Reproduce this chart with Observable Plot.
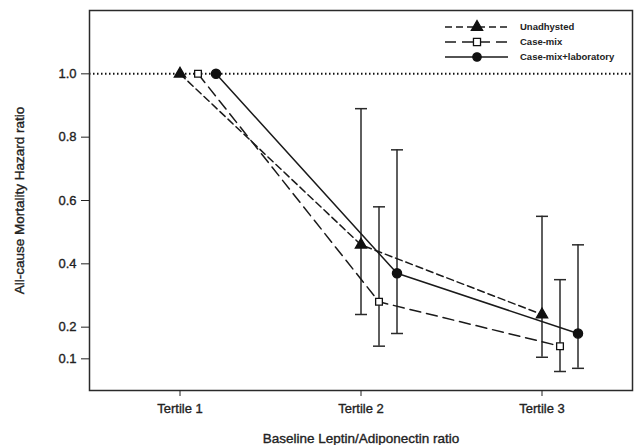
<!DOCTYPE html>
<html>
<head>
<meta charset="utf-8">
<script src="https://cdn.jsdelivr.net/npm/d3@7"></script>
<script src="https://cdn.jsdelivr.net/npm/@observablehq/plot@0.6"></script>
<style>
  html, body { margin: 0; padding: 0; background: #fff; }
  #chart { position: relative; width: 634px; height: 445px; }
  #chart svg g[aria-label$="axis"] text, #chart svg g[aria-label$="label"] text { stroke: #222; stroke-width: 0.35px; }
</style>
</head>
<body>
<div id="chart"></div>
<script>
// ---- data ----
const tertiles = ["Tertile 1", "Tertile 2", "Tertile 3"];
const yTicks = [0.1, 0.2, 0.4, 0.6, 0.8, 1.0];

const unadjusted   = [1.0, 0.46, 0.24];
const unadjustedLo = [null, 0.24, 0.105];
const unadjustedHi = [null, 0.89, 0.55];

const caseMix   = [1.0, 0.28, 0.14];
const caseMixLo = [null, 0.14, 0.06];
const caseMixHi = [null, 0.58, 0.35];

const caseMixLab   = [1.0, 0.37, 0.18];
const caseMixLabLo = [null, 0.18, 0.07];
const caseMixLabHi = [null, 0.76, 0.46];

const seriesNames = ["Unadhysted", "Case-mix", "Case-mix+laboratory"];

// ---- build table ----
function rows(vals, lo, hi) {
  return vals.map((v, i) => ({ t: i + 1, v, lo: lo[i], hi: hi[i] }));
}
const series = [
  { name: seriesNames[0], data: rows(unadjusted, unadjustedLo, unadjustedHi), dx: 0,  dash: "7,4",  symbol: "triangle", fill: "#111", r: 4.2 },
  { name: seriesNames[1], data: rows(caseMix, caseMixLo, caseMixHi),          dx: 18, dash: "11,6", symbol: "square",   fill: "#fff", r: 3.8 },
  { name: seriesNames[2], data: rows(caseMixLab, caseMixLabLo, caseMixLabHi), dx: 36, dash: null,   symbol: "circle",   fill: "#111", r: 4.6 }
];

const ink = "#2a2a2a";
const capSymbol = { draw(ctx) { ctx.moveTo(-6, 0); ctx.lineTo(6, 0); } };

const marks = [
  Plot.ruleY([1.0], { stroke: "#111", strokeWidth: 2, strokeDasharray: "1.5,2.5" })
];
for (const s of series) {
  const eb = s.data.filter(d => d.lo != null);
  marks.push(Plot.ruleX(eb, { x: "t", y1: "lo", y2: "hi", dx: s.dx, stroke: ink, strokeWidth: 1.5 }));
  marks.push(Plot.dot(eb, { x: "t", y: "lo", dx: s.dx, symbol: capSymbol, stroke: ink, strokeWidth: 1.5, fill: "none" }));
  marks.push(Plot.dot(eb, { x: "t", y: "hi", dx: s.dx, symbol: capSymbol, stroke: ink, strokeWidth: 1.5, fill: "none" }));
}
for (const s of series) {
  marks.push(Plot.line(s.data, { x: "t", y: "v", dx: s.dx, stroke: "#1a1a1a", strokeWidth: 1.5, strokeDasharray: s.dash }));
}
for (const s of series) {
  marks.push(Plot.dot(s.data, { x: "t", y: "v", dx: s.dx, symbol: s.symbol, r: s.r, fill: s.fill, stroke: "#111", strokeWidth: 1.3 }));
}
marks.push(Plot.frame({ stroke: ink, strokeWidth: 1.5 }));
marks.push(Plot.axisX({ ticks: [1, 2, 3], tickFormat: d => tertiles[d - 1], tickSize: 6, tickPadding: 7,
  fontSize: 13, label: null }));
marks.push(Plot.axisY({ ticks: yTicks, tickFormat: d => d.toFixed(1), tickSize: 8, tickPadding: 5,
  fontSize: 13, label: null }));
marks.push(Plot.axisX({ ticks: [], tickSize: 0, label: "Baseline Leptin/Adiponectin ratio", labelAnchor: "center",
  labelOffset: 52, labelArrow: "none", fontSize: 13.5 }));
marks.push(Plot.axisY({ ticks: [], tickSize: 0, label: "All-cause Mortality Hazard ratio", labelAnchor: "center",
  labelOffset: 75, labelArrow: "none", fontSize: 13.5 }));

const chart = Plot.plot({
  width: 634,
  height: 445,
  marginLeft: 89,
  marginRight: 2,
  marginTop: 10,
  marginBottom: 55,
  style: { fontFamily: "'Liberation Sans', Arial, sans-serif", fontSize: "13px", color: "#222", background: "#fff" },
  x: { domain: [0.5, 3.5] },
  y: { domain: [0, 1.2] },
  marks
});
document.getElementById("chart").appendChild(chart);

// ---- legend (inside plot, top right) ----
const svg = d3.select(chart);
const lg = svg.append("g").attr("font-family", "'Liberation Sans', Arial, sans-serif")
  .attr("font-size", 9.5).attr("font-weight", "bold").attr("fill", "#222").attr("text-anchor", "start");
series.forEach((s, i) => {
  const y = 27 + i * 15;
  lg.append("line").attr("x1", 445).attr("x2", 508).attr("y1", y).attr("y2", y)
    .attr("stroke", "#1a1a1a").attr("stroke-width", 1.5).attr("stroke-dasharray", s.dash);
  const sym = d3.symbol().type(s.symbol === "triangle" ? d3.symbolTriangle : s.symbol === "square" ? d3.symbolSquare : d3.symbolCircle)
    .size(s.symbol === "square" ? 50 : 55);
  lg.append("path").attr("d", sym()).attr("transform", `translate(477,${y})`)
    .attr("fill", s.fill).attr("stroke", "#111").attr("stroke-width", 1.3);
  lg.append("text").attr("x", 520).attr("y", y).attr("dy", "0.35em").text(s.name);
});
</script>
</body>
</html>
